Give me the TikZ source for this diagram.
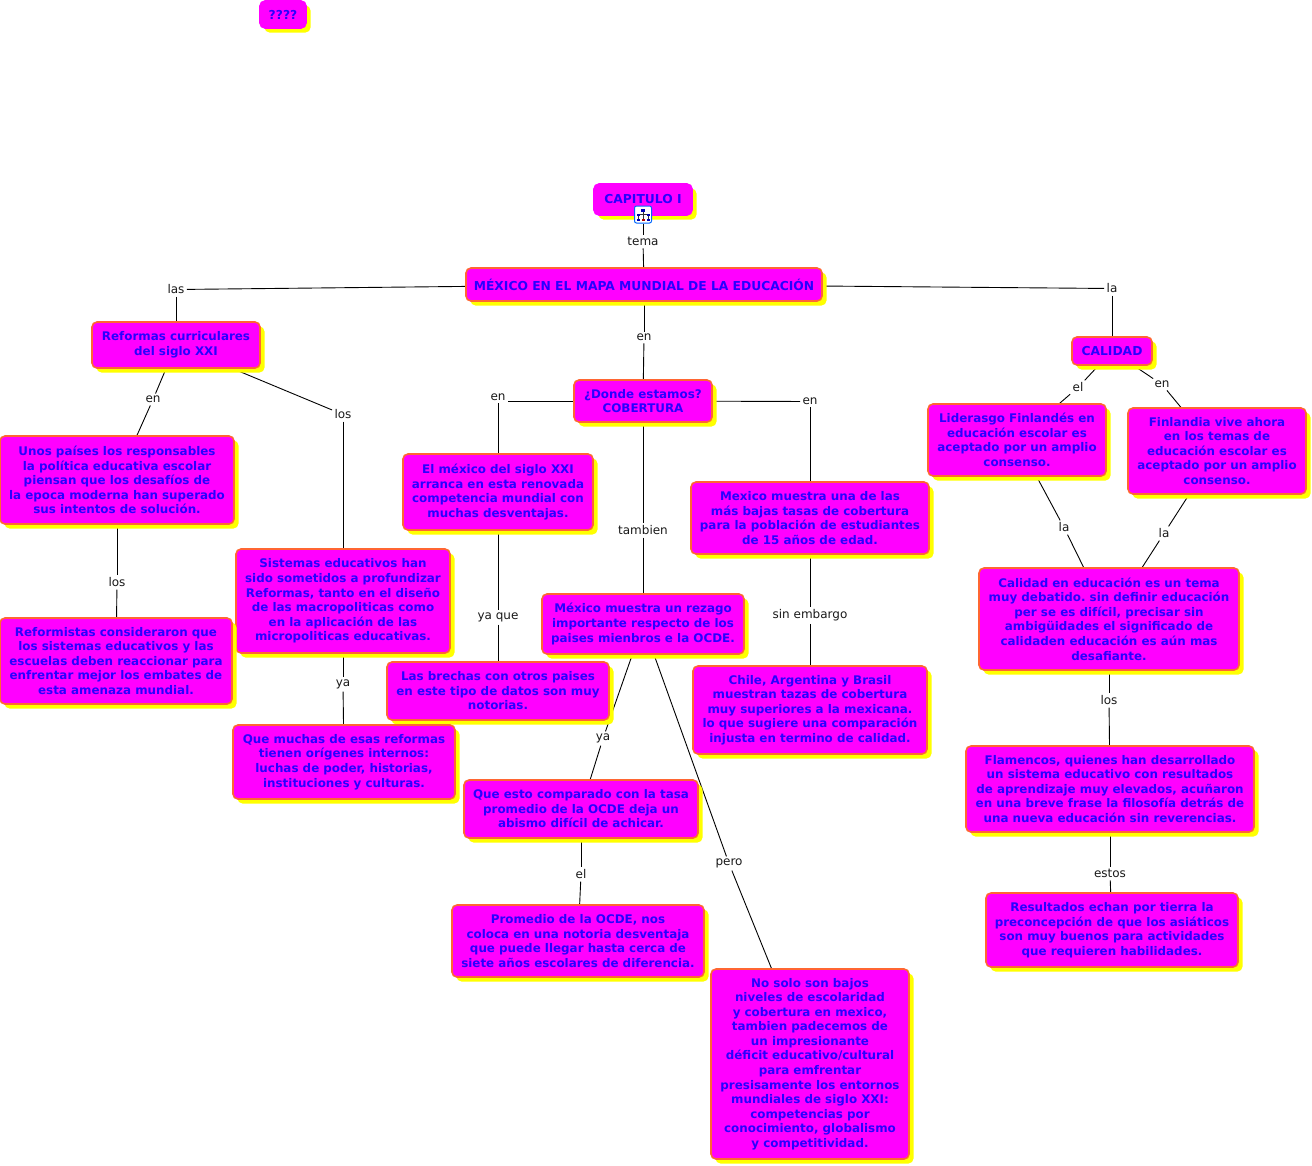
\documentclass[tikz,border=0pt]{standalone}
\usepackage{fontspec}
\setmainfont{DejaVu Sans}
\usetikzlibrary{shadows}
\pgfdeclarelayer{lines}
\pgfsetlayers{lines,main}
\definecolor{boxfill}{HTML}{FF00FF}
\definecolor{boxedge}{HTML}{FF6633}
\definecolor{boxshade}{HTML}{FFFF00}
\definecolor{boxtext}{HTML}{2A00FF}
\tikzset{
  cbase/.style={rectangle,rounded corners=5pt,fill=boxfill,draw=boxedge,line width=1.6pt,
    inner sep=0pt,outer sep=0pt,align=center,text=boxtext,
    font=\bfseries\frenchspacing\fontsize{11.9}{14.55}\selectfont,
    general shadow={fill=boxshade,shadow xshift=4.5pt,shadow yshift=-4.5pt}},
  cbox/.style={cbase,execute at begin node={\rule{0pt}{14.5pt}}},
  capsbox/.style={cbase,font=\bfseries\frenchspacing\fontsize{12.3}{14.6}\selectfont},
  topbox/.style={capsbox,draw=boxfill},
  lab/.style={inner sep=2.5pt,outer sep=0pt,text=black!90,font=\fontsize{12}{14}\selectfont},
  conn/.style={draw=black,line width=0.9pt},
  wsz/.style n args={2}{minimum width=#1pt,minimum height=#2pt}
}
\begin{document}
\begin{tikzpicture}[x=1pt,y=-1pt]
\useasboundingbox (0,0) rectangle (1312,1165);
% concept boxes
\node[topbox,wsz={46}{27}] (q) at (283,14.5) {????};
\node[topbox,wsz={98}{31}] (cap) at (643,199.5) {\raisebox{2pt}{CAPITULO I}};
\node[capsbox,wsz={356}{33}] (mex) at (644,284.5) {MÉXICO EN EL MAPA MUNDIAL DE LA EDUCACIÓN};
\node[cbox,wsz={168}{46}] (ref) at (176,345) {Reformas curriculares\\del siglo XXI};
\node[cbox,wsz={138}{42}] (don) at (643,401) {¿Donde estamos?\\COBERTURA};
\node[capsbox,wsz={80}{28}] (cal) at (1112,351) {CALIDAD};
\node[cbox,wsz={178}{72}] (lid) at (1017,440) {Liderasgo Finlandés en\\educación escolar es\\aceptado por un amplio\\consenso.};
\node[cbox,wsz={178}{86}] (fin) at (1217,451) {Finlandia vive ahora\\en los temas de\\educación escolar es\\aceptado por un amplio\\consenso.};
\node[cbox,wsz={234}{88}] (uno) at (117,480) {Unos países los responsables\\la política educativa escolar\\piensan que los desafíos de\\la epoca moderna han superado\\sus intentos de solución.};
\node[cbox,wsz={190}{76}] (elm) at (498,492) {El méxico del siglo XXI\\arranca en esta renovada\\competencia mundial con\\muchas desventajas.};
\node[cbox,wsz={238}{72}] (mmu) at (810,518) {Mexico muestra una de las\\más bajas tasas de cobertura\\para la población de estudiantes\\de 15 años de edad.};
\node[cbox,wsz={214}{104}] (sis) at (343,601) {Sistemas educativos han\\sido sometidos a profundizar\\Reformas, tanto en el diseño\\de las macropoliticas como\\en la aplicación de las\\micropoliticas educativas.};
\node[cbox,wsz={260}{102}] (cde) at (1109,619) {Calidad en educación es un tema\\muy debatido. sin definir educación\\per se es difícil, precisar sin\\ambigüidades el significado de\\calidaden educación es aún mas\\desafiante.};
\node[cbox,wsz={202}{60}] (rez) at (643,624) {México muestra un rezago\\importante respecto de los\\paises mienbros e la OCDE.};
\node[cbox,wsz={232}{86}] (rfm) at (116,661) {Reformistas consideraron que\\los sistemas educativos y las\\escuelas deben reaccionar para\\enfrentar mejor los embates de\\esta amenaza mundial.};
\node[cbox,wsz={222}{58}] (bre) at (498,691) {Las brechas con otros paises\\en este tipo de datos son muy\\notorias.};
\node[cbox,wsz={234}{88}] (chi) at (810,710) {Chile, Argentina y Brasil\\muestran tazas de cobertura\\muy superiores a la mexicana.\\lo que sugiere una comparación\\injusta en termino de calidad.};
\node[cbox,wsz={222}{74}] (qmu) at (344,762) {Que muchas de esas reformas\\tienen orígenes internos:\\luchas de poder, historias,\\instituciones y culturas.};
\node[cbox,wsz={288}{86}] (fla) at (1110,789) {Flamencos, quienes han desarrollado\\un sistema educativo con resultados\\de aprendizaje muy elevados, acuñaron\\en una breve frase la filosofía detrás de\\una nueva educación sin reverencias.};
\node[cbox,wsz={234}{58}] (qes) at (581,809) {Que esto comparado con la tasa\\promedio de la OCDE deja un\\abismo difícil de achicar.};
\node[cbox,wsz={252}{74}] (res) at (1112,930) {Resultados echan por tierra la\\preconcepción de que los asiáticos\\son muy buenos para actividades\\que requieren habilidades.};
\node[cbox,wsz={252}{72}] (pro) at (578,941) {Promedio de la OCDE, nos\\coloca en una notoria desventaja\\que puede llegar hasta cerca de\\siete años escolares de diferencia.};
\node[cbox,wsz={198}{190}] (nos) at (810,1064) {No solo son bajos\\niveles de escolaridad\\y cobertura en mexico,\\tambien padecemos de\\un impresionante\\déficit educativo/cultural\\para emfrentar\\presisamente los entornos\\mundiales de siglo XXI:\\competencias por\\conocimiento, globalismo\\y competitividad.};
% sub-map icon on CAPITULO I
\node[rectangle,rounded corners=2pt,fill=white,draw=blue!60!cyan,line width=1pt,minimum width=17pt,minimum height=17pt,inner sep=0pt] (ico) at (643,214.5) {};
\draw[line width=0.7pt,draw=black!80] (ico.center)++(0,-3) -- ++(0,3) (ico.center)++(-5,4) -- ++(0,-4) -- ++(10,0) -- ++(0,4) (ico.center)++(0,4) -- ++(0,-4);
\fill[blue!70!black] (ico.center)++(-2,-6) rectangle ++(4,3);
\fill[blue!70!black] (ico.center)++(-6.5,-1) rectangle ++(3,2);
\fill[blue!70!black] (ico.center)++(3.5,-1) rectangle ++(3,2);
\fill[blue!70!black] (ico.center)++(-6.5,4) rectangle ++(3,2);
\fill[red!70!black] (ico.center)++(-1.5,4) rectangle ++(3,2);
\fill[blue!70!black] (ico.center)++(3.5,4) rectangle ++(3,2);
% linking phrases
\node[lab] (ltema) at (643,241.5) {tema};
\node[lab] (llas) at (176,289.5) {las};
\node[lab] (lla) at (1112,288.5) {la};
\node[lab] (len) at (644,337.5) {en};
\node[lab] (lenl) at (498,397.5) {en};
\node[lab] (lenr) at (810,401.5) {en};
\node[lab] (ltam) at (643,530.5) {tambien};
\node[lab] (lenf) at (153,399.5) {en};
\node[lab] (llos) at (343,414.5) {los};
\node[lab] (lel) at (1078,387.5) {el};
\node[lab] (lenc) at (1162,384.5) {en};
\node[lab] (llal) at (1064,527.5) {la};
\node[lab] (llar) at (1164,533.5) {la};
\node[lab] (llosu) at (117,582.5) {los};
\node[lab] (lyaq) at (498,617.5) {ya que};
\node[lab] (lsin) at (810,615.5) {sin embargo};
\node[lab] (lyas) at (343,684.5) {ya};
\node[lab] (lyar) at (603,738.5) {ya};
\node[lab] (lper) at (729,863.5) {pero};
\node[lab] (lelo) at (581,874.5) {el};
\node[lab] (llosc) at (1109,700.5) {los};
\node[lab] (lest) at (1110,873.5) {estos};
% connectors
\begin{pgfonlayer}{lines}
\draw[conn] (ico) -- (ltema); \draw[conn] (ltema) -- (mex);
\draw[conn] (mex) -- (llas); \draw[conn] (llas) -- (ref);
\draw[conn] (mex) -- (lla); \draw[conn] (lla) -- (cal);
\draw[conn] (mex) -- (len); \draw[conn] (len) -- (don);
\draw[conn] (don) -- (lenl.east |- don); \draw[conn] (lenl) -- (elm);
\draw[conn] (don) -- (lenr); \draw[conn] (lenr) -- (mmu);
\draw[conn] (don) -- (ltam); \draw[conn] (ltam) -- (rez);
\draw[conn] (ref) -- (lenf); \draw[conn] (lenf) -- (uno);
\draw[conn] (ref) -- (llos); \draw[conn] (llos) -- (sis);
\draw[conn] (uno) -- (llosu); \draw[conn] (llosu) -- (rfm);
\draw[conn] (sis) -- (lyas); \draw[conn] (lyas) -- (qmu);
\draw[conn] (elm) -- (lyaq); \draw[conn] (lyaq) -- (bre);
\draw[conn] (mmu) -- (lsin); \draw[conn] (lsin) -- (chi);
\draw[conn] (rez) -- (lyar); \draw[conn] (lyar) -- (qes);
\draw[conn] (rez) -- (lper); \draw[conn] (lper) -- (nos);
\draw[conn] (qes) -- (lelo); \draw[conn] (lelo) -- (pro);
\draw[conn] (cal) -- (lel); \draw[conn] (lel) -- (lid);
\draw[conn] (cal) -- (lenc); \draw[conn] (lenc) -- (fin);
\draw[conn] (lid) -- (llal); \draw[conn] (llal) -- (cde);
\draw[conn] (fin) -- (llar); \draw[conn] (llar) -- (cde);
\draw[conn] (cde) -- (llosc); \draw[conn] (llosc) -- (fla);
\draw[conn] (fla) -- (lest); \draw[conn] (lest) -- (res);
\end{pgfonlayer}
\end{tikzpicture}
\end{document}
